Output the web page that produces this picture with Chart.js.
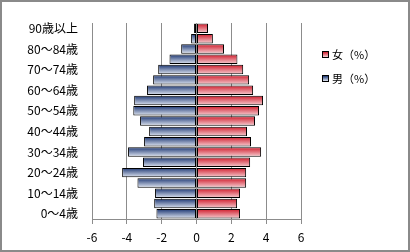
<!DOCTYPE html>
<html>
<head>
<meta charset="utf-8">
<script src="https://cdn.jsdelivr.net/npm/chart.js@4.4.1/dist/chart.umd.min.js"></script>
<style>
    html, body { margin: 0; padding: 0; background: #fff; }
    #wrap {
        position: absolute; left: 0; top: 0;
        width: 410px; height: 252px;
        box-sizing: border-box;
        border: 2px solid #8a8a8a;
    }
    #legend {
        position: absolute; left: 322px; top: 42px;
        font-family: "Noto Sans CJK JP", "Noto Sans", sans-serif;
        font-size: 11px; color: #000;
    }
    .item { height: 24px; display: flex; align-items: center; }
    .box { width: 7px; height: 7px; box-sizing: border-box; border: 1px solid #000; margin-right: 3px; }
</style>
</head>
<body>
<div id="wrap"><canvas id="pyramid"></canvas></div>
<div id="legend"></div>
<script>
// age groups, bottom to top
const ageLabels = [
    '0～4歳', '5～9歳', '10～14歳', '15～19歳', '20～24歳', '25～29歳',
    '30～34歳', '35～39歳', '40～44歳', '45～49歳', '50～54歳', '55～59歳',
    '60～64歳', '65～69歳', '70～74歳', '75～79歳', '80～84歳', '85～89歳', '90歳以上'
];
// share of population (%)
const maleShare = [2.30, 2.43, 2.38, 3.39, 4.27, 3.07, 3.93, 3.01, 2.72, 3.24,
                   3.63, 3.58, 2.84, 2.49, 2.20, 1.55, 0.88, 0.31, 0.14];
const femaleShare = [2.50, 2.33, 2.50, 2.85, 2.85, 3.08, 3.71, 3.13, 2.90, 3.36,
                     3.59, 3.82, 3.25, 3.02, 2.68, 2.35, 1.58, 0.94, 0.66];
const xMin = -6, xMax = 6, xStep = 2;

const BAR_PCT = 0.92;
const RED = ['#cf1b2b', '#f6d0d4'];
const BLUE = ['#1c3672', '#e2e8f3'];
const GRID = '#8c8c8c';

// vertical gradient per bar, dark on top
function barFill(stops) {
    return (ctx) => {
        const chart = ctx.chart;
        if (ctx.type !== 'data' || !chart.chartArea) return stops[0];
        const mid = chart.scales.y.getPixelForValue(ctx.dataIndex);
        const h = chart.chartArea.height / ageLabels.length * BAR_PCT;
        const g = chart.ctx.createLinearGradient(0, mid - h / 2, 0, mid + h / 2);
        g.addColorStop(0, stops[0]);
        g.addColorStop(1, stops[1]);
        return g;
    };
}

// grid lines as 1px filled rects (stroked lines went missing on the big canvas)
const xGridPlugin = {
    id: 'xGrid',
    beforeDatasetsDraw(chart) {
        const { ctx, chartArea: a, scales: { x } } = chart;
        const col = (p) => Math.round(p - 0.5);
        ctx.save();
        ctx.fillStyle = GRID;
        x.ticks.forEach(t => {
            const px = col(x.getPixelForValue(t.value));
            ctx.fillRect(px, Math.round(a.top), 1, Math.round(a.bottom - a.top) + 5);
        });
        ctx.fillRect(col(a.left), col(a.bottom), Math.round(a.right - a.left) + 1, 1);
        ctx.restore();
    }
};

Chart.defaults.font.family = '"Noto Sans CJK JP", "Noto Sans", sans-serif';
Chart.defaults.font.size = 12;
Chart.defaults.color = '#000';

const canvas = document.getElementById('pyramid');
canvas.getContext('2d', { willReadFrequently: true });

const chart = new Chart(canvas, {
    type: 'bar',
    data: {
        labels: ageLabels,
        datasets: [
            {
                label: '女（%）',
                data: femaleShare,
                backgroundColor: barFill(RED),
                borderColor: '#000',
                borderWidth: 1,
                borderSkipped: false,
                barPercentage: BAR_PCT,
                categoryPercentage: 1
            },
            {
                label: '男（%）',
                data: maleShare.map(v => -v),
                backgroundColor: barFill(BLUE),
                borderColor: '#000',
                borderWidth: 1,
                borderSkipped: false,
                barPercentage: BAR_PCT,
                categoryPercentage: 1
            }
        ]
    },
    options: {
        indexAxis: 'y',
        responsive: true,
        maintainAspectRatio: false,
        animation: false,
        layout: { padding: { top: 11, right: 107, bottom: 0, left: 0 } },
        plugins: {
            legend: { display: false },
            tooltip: { enabled: false }
        },
        scales: {
            x: {
                stacked: true,
                min: xMin,
                max: xMax,
                grid: { color: GRID, tickLength: 5 },
                border: { color: GRID },
                ticks: { stepSize: xStep, padding: 6, font: { size: 12 } },
                afterFit: (s) => { s.height = 31; }
            },
            y: {
                stacked: true,
                reverse: true,
                grid: { display: false, drawTicks: false },
                border: { display: false },
                ticks: {
                    autoSkip: false,
                    padding: 14,
                    font: { size: 12 },
                    callback: (v, i) => (i % 2 === 0 ? ageLabels[i] : '')
                },
                afterFit: (s) => { s.width = 90; }
            }
        }
    },
    plugins: [xGridPlugin]
});

// legend on the right, top aligned like the original
const legendColors = [RED, BLUE];
document.getElementById('legend').innerHTML = chart.data.datasets.map((ds, i) =>
    `<div class="item"><span class="box" style="background:linear-gradient(${legendColors[i][0]}, ${legendColors[i][1]})"></span>${ds.label}</div>`
).join('');
</script>
</body>
</html>
